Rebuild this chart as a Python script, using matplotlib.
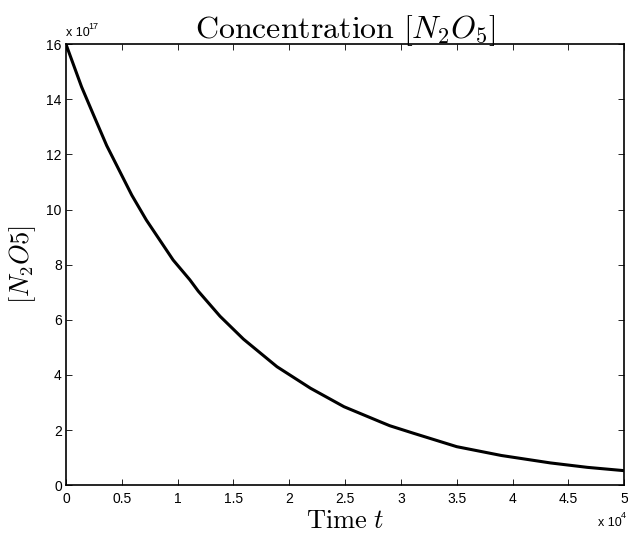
import matplotlib
matplotlib.use("Agg")
import matplotlib.pyplot as plt
import numpy as np

# values (time in s, concentration in molecules/cm^3)
t = [0, 1400, 2450, 3650, 5900, 7200, 9600, 11100, 11850, 13800, 15900,
     18900, 21900, 24900, 28100, 29000, 31100, 35000, 39000, 43400,
     46700, 50000]
n2o5 = [16.0, 14.45, 13.45, 12.32, 10.52, 9.62, 8.17, 7.45, 7.04, 6.13,
        5.30, 4.30, 3.52, 2.85, 2.31, 2.16, 1.89, 1.40, 1.08, 0.81,
        0.65, 0.53]
n2o5 = [v * 1e17 for v in n2o5]

x_ticks = [0, 0.5, 1, 1.5, 2, 2.5, 3, 3.5, 4, 4.5, 5]
y_ticks = [0, 2, 4, 6, 8, 10, 12, 14, 16]

plt.rcParams['mathtext.fontset'] = 'cm'
plt.rcParams['font.family'] = 'Liberation Sans'

fig = plt.figure(figsize=(6.28, 5.38), dpi=100)
ax = fig.add_axes([0.105, 0.098, 0.889, 0.820])

ax.plot(np.array(t) / 1e4, np.array(n2o5) / 1e17, color='black', linewidth=2.2)

ax.set_xlim(0, 5)
ax.set_ylim(0, 16)
ax.set_xticks(x_ticks)
ax.set_xticklabels([f"{v:g}" for v in x_ticks])
ax.set_yticks(y_ticks)
ax.set_yticklabels([str(v) for v in y_ticks])
ax.tick_params(direction='in', length=4.5, width=0.6, labelsize=10,
               top=True, right=True)
ax.tick_params(axis='x', pad=5)
ax.tick_params(axis='y', pad=3)
for s in ax.spines.values():
    s.set_linewidth(1.2)

ax.set_title(r"$\mathrm{Concentration}\ [N_2O_5]$", fontsize=23, pad=4)
ax.set_xlabel(r"$\mathrm{Time}\ t$", fontsize=19, labelpad=2)
ax.set_ylabel(r"$[N_2O5]$", fontsize=19, labelpad=6)

# MATLAB-style exponent labels
ax.text(0.0, 1.012, "x 10", transform=ax.transAxes, fontsize=9,
        ha='left', va='bottom')
ax.text(0.04, 1.03, "17", transform=ax.transAxes, fontsize=6.5,
        ha='left', va='bottom')
ax.text(0.953, -0.073, "x 10", transform=ax.transAxes, fontsize=9,
        ha='left', va='top')
ax.text(0.993, -0.058, "4", transform=ax.transAxes, fontsize=6.5,
        ha='left', va='top')

fig.savefig("out.png", dpi=100)
